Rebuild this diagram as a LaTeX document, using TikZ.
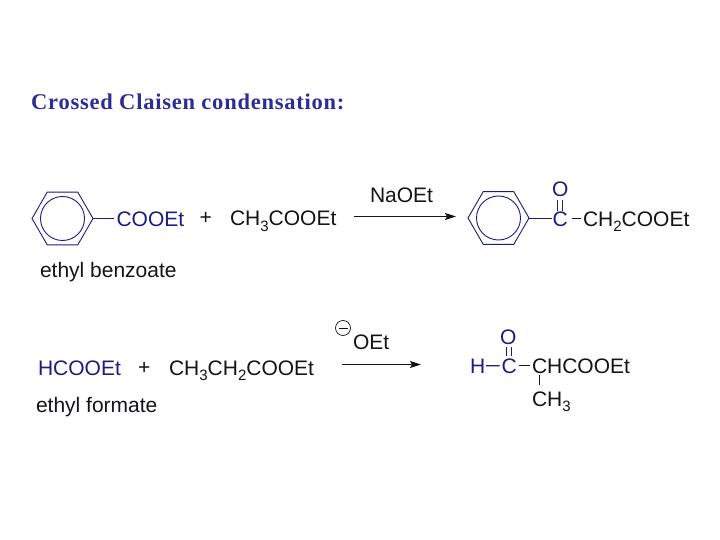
\documentclass[tikz,border=0pt]{standalone}
\usepackage{fontspec}
\setmainfont{Liberation Sans}
\newfontfamily\ttlfont[LetterSpace=3.4]{Liberation Serif}
\usetikzlibrary{arrows.meta,shapes.geometric}
\definecolor{navy}{RGB}{28,28,130}
\definecolor{ttlblue}{RGB}{45,45,150}
\definecolor{ink}{RGB}{20,20,25}
\newcommand{\ssb}[1]{\raisebox{-0.28em}{\fontsize{15}{15}\selectfont #1}}
\tikzset{
  txt/.style={anchor=base west,inner sep=0pt,outer sep=0pt,text=ink,font=\fontsize{21}{21}\selectfont},
  bluetxt/.style={txt,text=navy},
  lab/.style={txt,font=\fontsize{21}{21}\selectfont},
  title/.style={anchor=base west,inner sep=0pt,text=ttlblue,font=\ttlfont\bfseries\fontsize{22.5}{24}\selectfont},
  ringh/.style={regular polygon,regular polygon sides=6,minimum size=61pt,inner sep=0pt,outer sep=0pt,draw=navy,line width=0.9pt},
  ringc/.style={circle,minimum size=44pt,inner sep=0pt,outer sep=0pt,draw=navy,line width=0.9pt},
  ringb/.style={draw=navy,line width=0.9pt},
  bondb/.style={draw=navy,line width=1.1pt},
  bondk/.style={draw=ink,line width=1.1pt},
  rxn/.style={draw=ink,line width=1pt,-{Stealth[length=11pt,width=7pt,inset=2pt]}},
}
\begin{document}
\begin{tikzpicture}[x=1pt,y=-1pt]
\useasboundingbox (0,0) rectangle (720,540);
\fill[white] (0,0) rectangle (720,540);
\node[title] (ttl) at (31,110) {Crossed Claisen condensation:};
% first reaction
\node[ringh] (r1) at (62.5,218.5) {};
\node[ringc] (c1) at (62.5,218.5) {};
\node[bluetxt] (e1) at (116.5,226) {COOEt};
\draw[ringb] (r1.east) -- ([xshift=-3pt]e1.west |- r1.east);
\node[txt] (p1) at (199.5,225) {+};
\node[txt] (a1) at (230,225.5) {CH\ssb{3}COOEt};
\node[lab] (n1) at (40,277) {ethyl benzoate};
\node[txt] (na) at (370,203) {NaOEt};
\coordinate (a1s) at (354,216.5);
\coordinate (a1e) at (456,216.5);
\draw[rxn] (a1s) -- (a1e);
\node[ringh] (r2) at (498.5,218) {};
\node[ringc] (c2) at (498.5,218) {};
\node[bluetxt] (cc) at (552.5,226) {C};
\node[bluetxt] (oo) at (552,196.5) {O};
\node[txt] (ch) at (583,226) {CH\ssb{2}COOEt};
\draw[ringb] (r2.east) -- ([xshift=-0.5pt]cc.west |- r2.east);
\draw[bondb] ([xshift=-2.5pt,yshift=0pt]cc.north) -- ([xshift=-2.5pt,yshift=-3.5pt]cc.north |- oo.south);
\draw[bondb] ([xshift=2.5pt,yshift=0pt]cc.north) -- ([xshift=2.5pt,yshift=-3.5pt]cc.north |- oo.south);
\draw[bondk] ([xshift=4pt]cc.east) -- ([xshift=-2pt]ch.west |- cc.east);
% second reaction
\node[bluetxt] (h1) at (38,375) {HCOOEt};
\node[txt] (p2) at (138,374) {+};
\node[txt] (b1) at (169,375) {CH\ssb{3}CH\ssb{2}COOEt};
\node[lab] (n2) at (36,412) {ethyl formate};
\node[circle,draw=ink,line width=0.7pt,minimum size=15pt,inner sep=0pt,outer sep=0pt] (mn) at (343,328) {};
\draw[ink,line width=0.8pt] ([xshift=-4.5pt]mn.center) -- ([xshift=4.5pt]mn.center);
\node[txt] (oe) at (353,349) {OEt};
\coordinate (a2s) at (342,364.5);
\coordinate (a2e) at (421,364.5);
\draw[rxn] (a2s) -- (a2e);
\node[bluetxt] (hh) at (470,373) {H};
\node[bluetxt] (c3) at (501.5,373) {C};
\node[bluetxt] (o3) at (500,344.5) {O};
\node[txt] (ch3) at (532,373) {C};
\node[txt] (rest) at (ch3.base east) [anchor=base west] {HCOOEt};
\node[txt] (me) at (532,406) {CH\ssb{3}};
\draw[bondb] ([xshift=1pt]hh.east) -- ([xshift=-2pt]c3.west);
\draw[bondk] ([xshift=2pt]c3.east) -- ([xshift=-2pt]ch3.west);
\draw[bondb] ([xshift=-2.2pt,yshift=2pt]c3.north) -- ([xshift=-2.2pt,yshift=-2pt]c3.north |- o3.south);
\draw[bondb] ([xshift=2.2pt,yshift=2pt]c3.north) -- ([xshift=2.2pt,yshift=-2pt]c3.north |- o3.south);
\draw[bondk] ([yshift=-2pt]ch3.south) -- ([yshift=6pt]ch3.south |- me.north);
\end{tikzpicture}
\end{document}
